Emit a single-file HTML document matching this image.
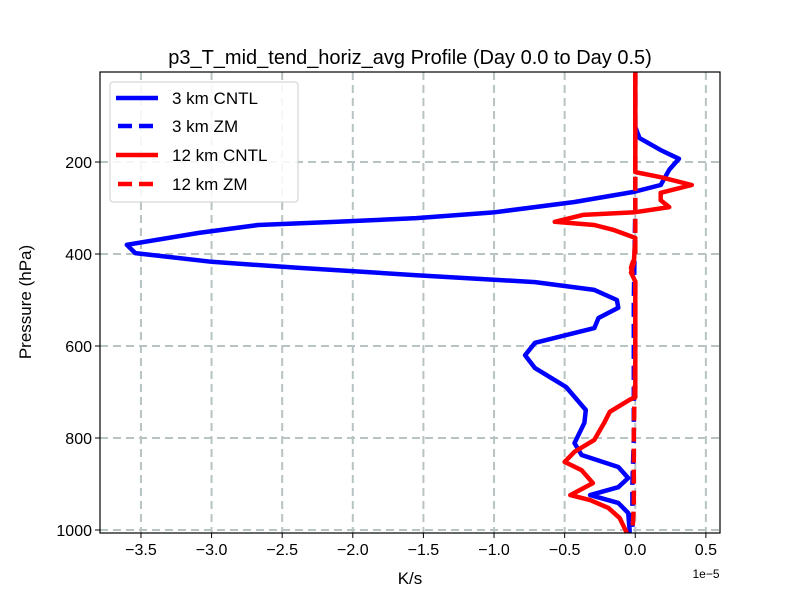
<!DOCTYPE html>
<html><head><meta charset="utf-8"><style>
body{margin:0;background:#fff;}
svg text{font-family:"Liberation Sans","DejaVu Sans",sans-serif;}
</style></head><body>
<svg id="chart" width="800" height="600" xmlns="http://www.w3.org/2000/svg">
<rect x="0" y="0" width="800" height="600" fill="#fff"/>
<g id="grid"></g>
<g id="plot"></g>
<rect x="100" y="72" width="620" height="461" fill="none" stroke="#000" stroke-width="1.2"/>
<g id="ticks"></g>
<text x="410" y="64" text-anchor="middle" font-size="20">p3_T_mid_tend_horiz_avg Profile (Day 0.0 to Day 0.5)</text>
<text x="410" y="584" text-anchor="middle" font-size="17">K/s</text>
<text x="706" y="578" text-anchor="middle" font-size="12">1e−5</text>
<text transform="translate(31,302) rotate(-90)" text-anchor="middle" font-size="17">Pressure (hPa)</text>
<g>
<rect x="110" y="82" width="188" height="120" rx="3" fill="#fff" fill-opacity="0.85" stroke="#ccc"/>
<line x1="116" y1="98" x2="158" y2="98" stroke="#0000ff" stroke-width="4.5"/>
<text x="172" y="104" font-size="17">3 km CNTL</text>
<line x1="118" y1="126" x2="158" y2="126" stroke="#0000ff" stroke-width="4.5" stroke-dasharray="14,7"/>
<text x="172" y="132" font-size="17">3 km ZM</text>
<line x1="116" y1="155" x2="158" y2="155" stroke="#ff0000" stroke-width="4.5"/>
<text x="172" y="161" font-size="17">12 km CNTL</text>
<line x1="118" y1="184" x2="158" y2="184" stroke="#ff0000" stroke-width="4.5" stroke-dasharray="14,7"/>
<text x="172" y="190" font-size="17">12 km ZM</text>
</g>
</svg>
<script>
const xTicks=[-3.5,-3.0,-2.5,-2.0,-1.5,-1.0,-0.5,0.0,0.5];
const xTickLabels=["−3.5","−3.0","−2.5","−2.0","−1.5","−1.0","−0.5","0.0","0.5"];
const yTicks=[200,400,600,800,1000];
const cntl3P=[4,124,148,174,193,217,250,265,287,309,322,330,337,354,380,398,417,430,446,461,478,500,517,539,561,593,620,648,689,739,767,811,837,863,887,907,924,941,963,1000,1006];
const cntl3V=[0,0,0.03,0.18,0.31,0.24,0.18,-0.01,-0.43,-0.99,-1.55,-2.11,-2.67,-3.09,-3.6,-3.54,-3.0,-2.39,-1.55,-0.71,-0.29,-0.13,-0.12,-0.26,-0.29,-0.71,-0.78,-0.71,-0.49,-0.35,-0.36,-0.43,-0.38,-0.12,-0.05,-0.12,-0.32,-0.12,-0.05,-0.04,-0.04];
const zm3P=[4,300,500,700,800,900,1000,1006];
const zm3V=[0,0,-0.01,-0.01,-0.01,-0.02,-0.02,-0.02];
const cntl12P=[4,222,233,250,267,283,298,309,315,330,337,348,365,420,440,460,711,717,743,767,804,830,852,870,898,924,935,952,974,1006];
const cntl12V=[0,0,0.18,0.40,0.18,0.18,0.24,0,-0.37,-0.57,-0.29,-0.15,0,-0.01,-0.03,0,0,-0.04,-0.18,-0.22,-0.29,-0.43,-0.5,-0.38,-0.3,-0.46,-0.32,-0.19,-0.11,-0.06];
const zm12P=[4,400,430,440,460,600,800,950,1006];
const zm12V=[0,0,-0.03,-0.02,0,0,-0.01,-0.01,-0.02];

const X0=100,X1=720,Y0=72,Y1=533;
const xMin=-3.79,xMax=0.60,pMin=4.3,pMax=1006.5;
const sx=v=>X0+(v-xMin)/(xMax-xMin)*(X1-X0);
const sy=p=>Y0+(p-pMin)/(pMax-pMin)*(Y1-Y0);
const NS="http://www.w3.org/2000/svg";
const grid=document.getElementById('grid'),plot=document.getElementById('plot'),ticks=document.getElementById('ticks');
function mk(tag,attrs,parent){const e=document.createElementNS(NS,tag);for(const k in attrs)e.setAttribute(k,attrs[k]);parent.appendChild(e);return e;}
xTicks.forEach((t,i)=>{
  const x=sx(t);
  const g=mk('line',{x1:x,y1:Y0,x2:x,y2:Y1,stroke:'#b8c4c4','stroke-width':2,'stroke-dasharray':'8,5'},grid);
  
  
  const tk=mk('line',{x1:x,y1:Y1,x2:x,y2:Y1+5,stroke:'#000','stroke-width':1},ticks);
  
  
  const tx=mk('text',{x:x,y:Y1+22,'text-anchor':'middle','font-size':16},ticks);
  tx.textContent=xTickLabels[i];
  
  
});
yTicks.forEach(t=>{
  const y=sy(t);
  const g=mk('line',{x1:X0,y1:y,x2:X1,y2:y,stroke:'#b8c4c4','stroke-width':2,'stroke-dasharray':'8,5'},grid);
  
  
  const tk=mk('line',{x1:X0-5,y1:y,x2:X0,y2:y,stroke:'#000','stroke-width':1},ticks);
  
  
  const tx=mk('text',{x:X0-8,y:y+6,'text-anchor':'end','font-size':16},ticks);
  tx.textContent=String(t);
  
  
});
function series(P,V,color,dash,name){
  const d=P.map((p,i)=>(i?'L':'M')+sx(V[i]).toFixed(1)+','+sy(p).toFixed(1)).join(' ');
  const attrs={d:d,fill:'none',stroke:color,'stroke-width':4.5,'stroke-linejoin':'round'};
  if(dash)attrs['stroke-dasharray']='14,7';
  const e=mk('path',attrs,plot);
  
  
}
series(cntl3P,cntl3V,'#0000ff',false,'line-3km-cntl');
series(zm3P,zm3V,'#0000ff',true,'line-3km-zm');
series(cntl12P,cntl12V,'#ff0000',false,'line-12km-cntl');
series(zm12P,zm12V,'#ff0000',true,'line-12km-zm');
</script>
</body></html>
